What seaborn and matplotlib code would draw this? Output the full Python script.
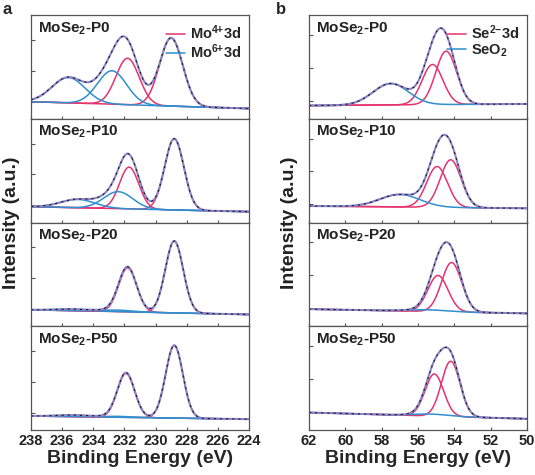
import numpy as np
import pandas as pd
import seaborn as sns
import matplotlib.pyplot as plt

sns.set_theme(style="ticks")
plt.rcParams.update({
    "font.family": ["Liberation Sans", "DejaVu Sans"],
    "font.weight": "bold",
    "axes.linewidth": 0.9,
    "axes.edgecolor": "#555555",
    "mathtext.fontset": "custom",
    "mathtext.rm": "Liberation Sans:bold",
    "mathtext.bf": "Liberation Sans:bold",
    "mathtext.default": "bf",
})

SAMPLES = ["MoSe$_2$-P0", "MoSe$_2$-P10", "MoSe$_2$-P20", "MoSe$_2$-P50"]

# Mo 3d fitted peaks: centre (eV), height (a.u.), FWHM (eV)
MO4_CENTER = [[229.0, 231.8], [228.8, 231.7], [228.8, 231.8], [228.8, 231.9]]
MO4_HEIGHT = [[2.20, 1.50], [2.30, 1.35], [2.32, 1.42], [2.35, 1.42]]
MO4_FWHM = [[1.75, 1.75], [1.45, 1.45], [1.35, 1.35], [1.30, 1.30]]
MO6_CENTER = [[232.8, 235.6], [232.4, 235.0], [232.5, 235.3], [232.5, 235.3]]
MO6_HEIGHT = [[1.08, 0.82], [0.55, 0.27], [0.05, 0.05], [0.03, 0.05]]
MO6_FWHM = [[2.2, 2.5], [2.2, 2.6], [2.4, 2.6], [2.4, 2.6]]
MO_BASE_LEFT = [0.0, -0.04, -0.02, -0.10]    # background at 238 eV
MO_BASE_RIGHT = [-0.22, -0.20, -0.17, -0.20]  # background at 224 eV

# Se 3d fitted peaks
SE2_CENTER = [[54.45, 55.2], [54.2, 54.95], [54.15, 54.9], [54.2, 55.1]]
SE2_HEIGHT = [[1.62, 1.22], [1.45, 1.24], [1.50, 1.10], [1.68, 1.28]]
SE2_FWHM = [[1.35, 1.35], [1.35, 1.35], [1.30, 1.30], [1.20, 1.20]]
SEO2_CENTER = [57.5, 57.0, 55.5, 55.3]
SEO2_HEIGHT = [0.65, 0.38, 0.05, 0.06]
SEO2_FWHM = [2.3, 2.6, 2.6, 2.4]
SE_BASE_LEFT = [-0.15, -0.05, -0.03, -0.02]   # background at 62 eV
SE_BASE_RIGHT = [-0.10, -0.12, -0.16, -0.21]  # background at 50 eV

MO_RANGE = (238, 224)
SE_RANGE = (62, 50)
MO_TICKS = [238, 236, 234, 232, 230, 228, 226, 224]
SE_TICKS = [62, 60, 58, 56, 54, 52, 50]

RED = "#e5336f"
BLUE = "#2f8fcf"
ENV = "#8a86c8"


def gauss(x, c, h, w):
    s = w / 2.3548
    return h * np.exp(-0.5 * ((x - c) / s) ** 2)


def draw_panel(ax, xr, base_l, base_r, red_peaks, blue_peaks, show_legend, labels):
    x = np.linspace(xr[0], xr[1], 600)
    base = base_l + (base_r - base_l) * (x - xr[0]) / (xr[1] - xr[0])
    total = base.copy()
    rows = []
    for i, (c, h, w) in enumerate(red_peaks):
        y = base + gauss(x, c, h, w)
        total += gauss(x, c, h, w)
        rows.append(pd.DataFrame({"x": x, "y": y, "comp": f"r{i}"}))
    for i, (c, h, w) in enumerate(blue_peaks):
        y = base + gauss(x, c, h, w)
        total += gauss(x, c, h, w)
        rows.append(pd.DataFrame({"x": x, "y": y, "comp": f"b{i}"}))
    df = pd.concat(rows)
    pal = {k: (RED if k.startswith("r") else BLUE) for k in df["comp"].unique()}
    sns.lineplot(data=df, x="x", y="y", hue="comp", palette=pal, ax=ax,
                 lw=1.1, legend=False, estimator=None, sort=False)
    sns.lineplot(x=x, y=total, ax=ax, color=ENV, lw=1.5, estimator=None, sort=False)
    sns.lineplot(x=x, y=total, ax=ax, color="black", lw=0.8, ls=(0, (2, 3.5)),
                 alpha=0.8, estimator=None, sort=False)
    if show_legend:
        ax.plot([], [], color=RED, lw=1.1, label=labels[0])
        ax.plot([], [], color=BLUE, lw=1.1, label=labels[1])
        ax.legend(loc="upper right", frameon=False, fontsize=10.5, handlelength=1.3,
                  handletextpad=0.3, labelspacing=0.05, borderaxespad=0.15)


fig, axes = plt.subplots(4, 2, figsize=(5.35, 4.75), dpi=100)
fig.subplots_adjust(left=31 / 535, right=527 / 535, top=1 - 15 / 475,
                    bottom=1 - 430 / 475, hspace=0, wspace=0.275)

for i in range(4):
    ax = axes[i, 0]
    red = list(zip(MO4_CENTER[i], MO4_HEIGHT[i], MO4_FWHM[i]))
    blue = list(zip(MO6_CENTER[i], MO6_HEIGHT[i], MO6_FWHM[i]))
    draw_panel(ax, MO_RANGE, MO_BASE_LEFT[i], MO_BASE_RIGHT[i], red, blue,
               i == 0, ["Mo$^{4{+}}$3d", "Mo$^{6{+}}$3d"])
    ax.set_xlim(*MO_RANGE)
    ax.set_ylim(-0.55, 2.8)
    ax.set_xticks(MO_TICKS)

    ax = axes[i, 1]
    red = list(zip(SE2_CENTER[i], SE2_HEIGHT[i], SE2_FWHM[i]))
    blue = [(SEO2_CENTER[i], SEO2_HEIGHT[i], SEO2_FWHM[i])]
    draw_panel(ax, SE_RANGE, SE_BASE_LEFT[i], SE_BASE_RIGHT[i], red, blue,
               i == 0, ["Se$^{2{-}}$3d", "SeO$_2$"])
    ax.set_xlim(*SE_RANGE)
    ax.set_ylim(-0.55, 2.6)
    ax.set_xticks(SE_TICKS)

for i in range(4):
    for j in range(2):
        ax = axes[i, j]
        ax.set_yticks([0, 1, 2])
        ax.set_yticklabels([])
        ax.tick_params(axis="y", direction="in", length=3, width=0.8, colors="#555555")
        ax.tick_params(axis="x", direction="in", length=2, width=0.8, labelsize=10.5,
                       labelcolor="#222222", color="#555555", pad=3)
        ax.set_xlabel("")
        ax.set_ylabel("")
        ax.text(0.03, 0.95, SAMPLES[i], transform=ax.transAxes, ha="left", va="top",
                fontsize=11, fontweight="bold", color="#222222")
        if i < 3:
            ax.set_xticklabels([])
    axes[3, 0].set_xlabel("Binding Energy (eV)", fontsize=14, fontweight="bold", labelpad=1)
    axes[3, 1].set_xlabel("Binding Energy (eV)", fontsize=14, fontweight="bold", labelpad=1)

ymid = 0.5 * (1 - 15 / 475 + 1 - 430 / 475)
fig.text(12 / 535, ymid, "Intensity (a.u.)", rotation=90,
         ha="center", va="center", fontsize=14, fontweight="bold", color="#222222")
fig.text(290 / 535, ymid, "Intensity (a.u.)", rotation=90,
         ha="center", va="center", fontsize=14, fontweight="bold", color="#222222")
fig.text(3 / 535, 1 - 2 / 475, "a", ha="left", va="top", fontsize=12, fontweight="bold")
fig.text(276 / 535, 1 - 2 / 475, "b", ha="left", va="top", fontsize=12, fontweight="bold")

plt.savefig("out.png", dpi=100)
plt.close()
